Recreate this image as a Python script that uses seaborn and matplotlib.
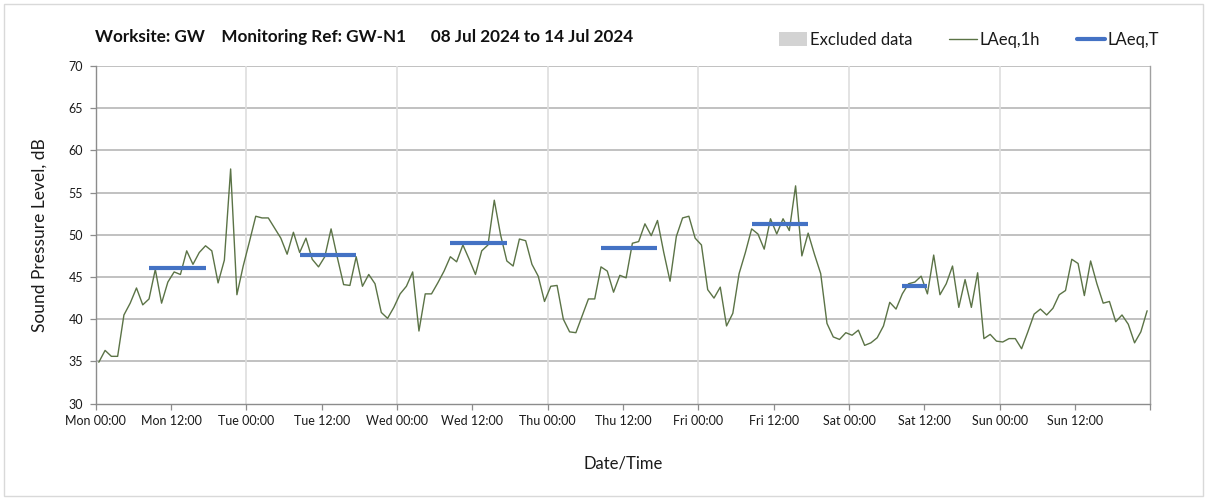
import matplotlib
matplotlib.use("Agg")
import matplotlib.pyplot as plt
from matplotlib.patches import Patch, Rectangle
from matplotlib.lines import Line2D
import numpy as np
import pandas as pd
import seaborn as sns

# Hourly LAeq,1h levels (dB), Mon 08 Jul 2024 00:00 onwards
laeq_mon = [34.9, 36.3, 35.6, 35.6, 40.5, 41.9, 43.7, 41.7, 42.4, 45.9, 41.9, 44.4,
            45.6, 45.3, 48.1, 46.5, 47.9, 48.7, 48.1, 44.3, 47.0, 57.8, 42.9, 46.3]
laeq_tue = [49.2, 52.2, 52.0, 52.0, 50.8, 49.6, 47.7, 50.3, 47.9, 49.6, 47.1, 46.2,
            47.4, 50.7, 47.3, 44.1, 44.0, 47.4, 43.9, 45.3, 44.2, 40.8, 40.1, 41.4]
laeq_wed = [43.0, 43.9, 45.6, 38.6, 43.0, 43.0, 44.3, 45.7, 47.4, 46.8, 48.8, 47.1,
            45.3, 48.1, 48.8, 54.1, 50.0, 46.9, 46.3, 49.5, 49.3, 46.5, 45.1, 42.1]
laeq_thu = [43.9, 44.0, 40.0, 38.5, 38.4, 40.4, 42.4, 42.4, 46.2, 45.7, 43.2, 45.2,
            44.9, 49.0, 49.2, 51.3, 49.9, 51.7, 47.9, 44.5, 49.8, 52.0, 52.2, 49.6]
laeq_fri = [48.8, 43.5, 42.5, 43.8, 39.2, 40.7, 45.4, 47.9, 50.7, 50.1, 48.3, 51.9,
            50.1, 51.9, 50.5, 55.8, 47.5, 50.2, 47.7, 45.4, 39.5, 37.9, 37.6, 38.4]
laeq_sat = [38.1, 38.7, 36.9, 37.2, 37.8, 39.2, 42.0, 41.2, 43.0, 44.2, 44.4, 45.1,
            43.0, 47.6, 42.9, 44.2, 46.3, 41.4, 44.7, 41.4, 45.5, 37.7, 38.2, 37.4]
laeq_sun = [37.3, 37.7, 37.7, 36.5, 38.5, 40.6, 41.2, 40.5, 41.3, 42.9, 43.4, 47.1,
            46.6, 42.8, 46.9, 44.2, 41.9, 42.1, 39.7, 40.5, 39.4, 37.2, 38.5, 41.0]

# LAeq,T over each assessment period: day index, first hour, last hour, level
period_day = [0, 1, 2, 3, 4, 5]
period_start_hour = [8, 8, 8, 8, 8, 8]
period_end_hour = [17, 17, 17, 17, 17, 12]
period_level = [46.1, 47.6, 49.0, 48.4, 51.3, 43.9]

# Periods excluded from assessment (none in this week)
excluded_start_hour = []
excluded_end_hour = []

day_names = ["Mon", "Tue", "Wed", "Thu", "Fri", "Sat", "Sun"]
tick_times = ["00:00", "12:00"]

# ---------------------------------------------------------------- data frames
hourly = laeq_mon + laeq_tue + laeq_wed + laeq_thu + laeq_fri + laeq_sat + laeq_sun
df_1h = pd.DataFrame({"hour": np.arange(len(hourly)) + 0.5, "level": hourly})

rows = []
for p, (d, s, e, lv) in enumerate(zip(period_day, period_start_hour,
                                       period_end_hour, period_level)):
    rows.append({"period": p, "hour": d * 24 + s + 0.5, "level": lv})
    rows.append({"period": p, "hour": d * 24 + e + 0.5, "level": lv})
df_t = pd.DataFrame(rows)

# ---------------------------------------------------------------- styling
sns.set_theme(style="white")
plt.rcParams["font.family"] = ["Lato", "DejaVu Sans"]

green = "#5b7346"
blue = "#4472c4"
grid_h = "#b0b0b0"
grid_v = "#dedede"
axis_c = "#8c8c8c"
text_c = "#1a1a1a"

fig = plt.figure(figsize=(12.08, 4.99), dpi=100)
ax = fig.add_axes([0.0792, 0.1912, 0.9522 - 0.0792, 0.8677 - 0.1912])

for s, e in zip(excluded_start_hour, excluded_end_hour):
    ax.axvspan(s, e, color="#d3d3d3", lw=0)

sns.lineplot(data=df_1h, x="hour", y="level", ax=ax, color=green, lw=1.0,
             zorder=3)
sns.lineplot(data=df_t, x="hour", y="level", units="period", estimator=None,
             ax=ax, color=blue, lw=3.0, zorder=4, solid_capstyle="butt")

n_hours = 24 * len(day_names)
ax.set_xlim(0, n_hours)
ax.set_ylim(30, 70)

xt = np.arange(0, n_hours + 1, 12)
xl = [f"{day_names[int(h // 24)]} {tick_times[int(h % 24 // 12)]}" if h < n_hours else ""
      for h in xt]
ax.set_xticks(xt)
ax.set_xticklabels(xl, fontsize=9, color=text_c)
ax.set_yticks(np.arange(30, 71, 5))
ax.set_yticklabels([str(v) for v in range(30, 71, 5)], fontsize=9, color=text_c)

ax.tick_params(axis="both", which="major", direction="out", length=4,
               width=0.9, color=axis_c, bottom=True, left=True)
ax.tick_params(axis="x", pad=4)
ax.tick_params(axis="y", pad=5)

# horizontal grid every 5 dB, light vertical grid at each midnight
for v in range(35, 71, 5):
    ax.axhline(v, color=grid_h, lw=1.1, zorder=1)
for h in range(24, n_hours, 24):
    ax.axvline(h, color=grid_v, lw=1.2, zorder=1)

for side in ["left", "bottom", "right"]:
    ax.spines[side].set_visible(True)
    ax.spines[side].set_color(axis_c)
    ax.spines[side].set_linewidth(1.0)
ax.spines["right"].set_color("#a0a0a0")
ax.spines["top"].set_visible(False)

ax.set_xlabel("Date/Time", fontsize=12, color=text_c, labelpad=21)
ax.set_ylabel("Sound Pressure Level, dB", fontsize=12.5, color=text_c, labelpad=15)

fig.text(95 / 1208, 1 - 37 / 499,
         "Worksite: GW    Monitoring Ref: GW-N1      08 Jul 2024 to 14 Jul 2024",
         fontsize=12.3, fontweight="bold", color="#111111", va="center", ha="left")

handles = [Patch(facecolor="#d3d3d3", edgecolor="none", label="Excluded data"),
           Line2D([], [], color=green, lw=1.0, label="LAeq,1h"),
           Line2D([], [], color=blue, lw=3.0, label="LAeq,T")]
fig.legend(handles=handles, loc="center right", bbox_to_anchor=(1174 / 1208, 1 - 40 / 499),
           ncol=3, frameon=False, fontsize=12, handlelength=1.7, handletextpad=0.15,
           columnspacing=2.2, handleheight=0.9, labelcolor=text_c)

# outer chart frame
fig.add_artist(Rectangle((4 / 1208, 3 / 499), 1199 / 1208, 492 / 499,
                         transform=fig.transFigure, fill=False,
                         edgecolor="#d9d9d9", lw=1.0))

fig.savefig("out.png", dpi=100, facecolor="white")
